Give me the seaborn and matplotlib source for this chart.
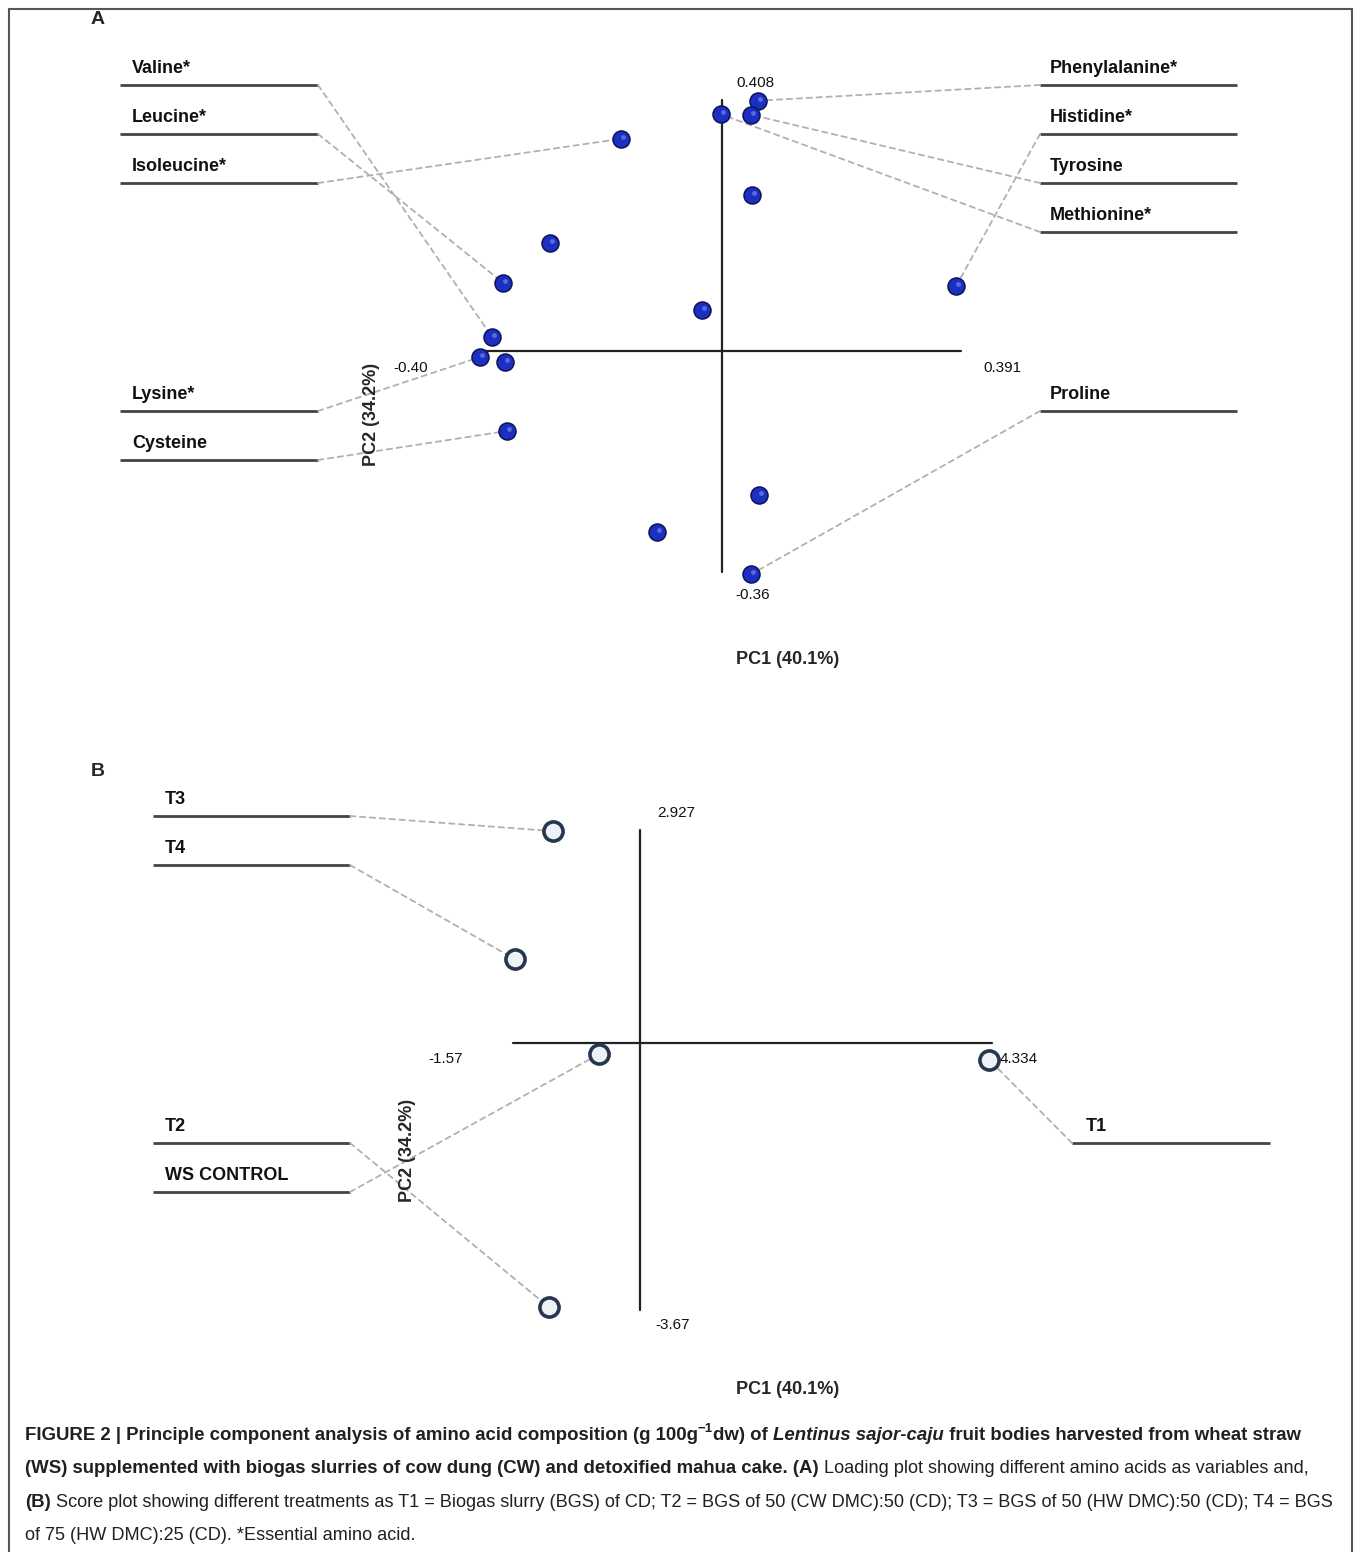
import numpy as np
import pandas as pd
import seaborn as sns
import matplotlib.pyplot as plt
import matplotlib.transforms as mtransforms

sns.set_style('white')
plt.rcParams['font.family'] = ['Liberation Sans', 'DejaVu Sans']

W, H = 1360, 1552

# ---- data: panel A loadings (PC1, PC2)
aa_names = ['Phenylalanine*', 'Methionine*', 'Tyrosine', 'Isoleucine*', '', '',
            'Leucine*', 'Histidine*', '', 'Valine*', 'Lysine*', '', 'Cysteine',
            '', '', 'Proline']
aa_pc1 = [0.059, -0.002, 0.048, -0.166, 0.049, -0.282, -0.359, 0.384,
          -0.033, -0.377, -0.397, -0.356, -0.352, 0.061, -0.107, 0.048]
aa_pc2 = [0.407, 0.385, 0.384, 0.345, 0.254, 0.176, 0.111, 0.106,
          0.067, 0.023, -0.010, -0.018, -0.130, -0.234, -0.294, -0.363]
a_xlim = [-0.40, 0.391]
a_ylim = [-0.36, 0.408]

# ---- data: panel B scores
trt_names = ['T3', 'T4', 'WS CONTROL', 'T1', 'T2']
trt_pc1 = [-1.07, -1.54, -0.50, 4.30, -1.12]
trt_pc2 = [2.91, 1.15, -0.15, -0.23, -3.63]
b_xlim = [-1.57, 4.334]
b_ylim = [-3.67, 2.927]

fig = plt.figure(figsize=(W / 100, H / 100), dpi=100)
pix = mtransforms.Affine2D().scale(1 / W, -1 / H).translate(0, 1) + fig.transFigure


def make_axes(origin, sx, sy, top, bottom):
    # axes spanning full width; data scaled so origin sits on the given pixel
    ox, oy = origin
    ax = fig.add_axes([0, 1 - bottom / H, 1, (bottom - top) / H])
    ax.set_xlim((0 - ox) / sx, (W - ox) / sx)
    ax.set_ylim((oy - bottom) / sy, (oy - top) / sy)
    ax.axis('off')
    return ax


def label_line(ax, name, x0, x1, y, tx, point, join_left):
    ax.plot([x0, x1], [y, y], color='#444444', lw=2, transform=pix, solid_capstyle='butt')
    ax.text(tx, y - 8, name, transform=pix, fontsize=13, fontweight='bold',
            ha='left', va='bottom', color='#111111')
    jx = x1 if join_left else x0
    ax.annotate('', xy=point, xycoords='data', xytext=(jx, y), textcoords=pix,
                arrowprops=dict(arrowstyle='-', ls=(0, (3, 2.5)), color='#b0b0b0',
                                lw=1.3, shrinkA=0, shrinkB=0))


# ================= panel A
axA = make_axes((722, 351), 610, 615, 30, 720)
axA.plot([a_xlim[0], a_xlim[1]], [0, 0], color='#222222', lw=1.6)
axA.plot([0, 0], [a_ylim[0], a_ylim[1]], color='#222222', lw=1.6)

dfA = pd.DataFrame({'PC1': aa_pc1, 'PC2': aa_pc2, 'name': aa_names})

left_rows = {'Valine*': 85, 'Leucine*': 134, 'Isoleucine*': 183, 'Lysine*': 411, 'Cysteine': 460}
right_rows = {'Phenylalanine*': 85, 'Histidine*': 134, 'Tyrosine': 183, 'Methionine*': 232, 'Proline': 411}
for _, r in dfA.iterrows():
    if r['name'] in left_rows:
        label_line(axA, r['name'], 120, 318, left_rows[r['name']], 132, (r['PC1'], r['PC2']), True)
    elif r['name'] in right_rows:
        label_line(axA, r['name'], 1040, 1237, right_rows[r['name']], 1050, (r['PC1'], r['PC2']), False)

sns.scatterplot(data=dfA, x='PC1', y='PC2', ax=axA, s=150, color='#1c2fc0',
                edgecolor='#0b1355', linewidth=1.1, zorder=5, legend=False)
# small highlight on each sphere
axA.scatter(dfA['PC1'] + 0.003, dfA['PC2'] + 0.003, s=12, color='#6f86f0',
            linewidth=0, zorder=6, alpha=0.7)

axA.text(0.054, a_ylim[1] + 0.027, f'{a_ylim[1]:.3f}', fontsize=11, ha='center', va='center', color='#111')
axA.text(a_xlim[1] + 0.068, -0.027, f'{a_xlim[1]:.3f}', fontsize=11, ha='center', va='center', color='#111')
axA.text(a_xlim[0] - 0.11, -0.027, f'{a_xlim[0]:.2f}', fontsize=11, ha='center', va='center', color='#111')
axA.text(0.05, a_ylim[0] - 0.037, f'{a_ylim[0]:.2f}', fontsize=11, ha='center', va='center', color='#111')
axA.text(788, 659, 'PC1 (40.1%)', transform=pix, fontsize=13, fontweight='bold', ha='center', va='center')
axA.text(372, 414, 'PC2 (34.2%)', transform=pix, fontsize=13, fontweight='bold',
         ha='center', va='center', rotation=90)
axA.text(98, 20, 'A', transform=pix, fontsize=14, fontweight='bold', ha='center', va='center')

# ================= panel B
axB = make_axes((640, 1043), 81.2, 72.8, 760, 1400)
axB.plot([b_xlim[0], b_xlim[1]], [0, 0], color='#222222', lw=1.6)
axB.plot([0, 0], [b_ylim[0], b_ylim[1]], color='#222222', lw=1.6)

dfB = pd.DataFrame({'PC1': trt_pc1, 'PC2': trt_pc2, 'name': trt_names})
left_b = {'T3': 816, 'T4': 865, 'T2': 1143, 'WS CONTROL': 1192}
for _, r in dfB.iterrows():
    if r['name'] in left_b:
        label_line(axB, r['name'], 153, 350, left_b[r['name']], 165, (r['PC1'], r['PC2']), True)
    else:
        label_line(axB, r['name'], 1072, 1270, 1143, 1086, (r['PC1'], r['PC2']), False)

sns.scatterplot(data=dfB, x='PC1', y='PC2', ax=axB, s=190, color='#eef2f7',
                edgecolor='#26364f', linewidth=2.6, zorder=5, legend=False)

axB.text(0.45, b_ylim[1] + 0.23, f'{b_ylim[1]:.3f}', fontsize=11, ha='center', va='center', color='#111')
axB.text(b_xlim[1] + 0.33, -0.22, f'{b_xlim[1]:.3f}', fontsize=11, ha='center', va='center', color='#111')
axB.text(b_xlim[0] - 0.82, -0.22, f'{b_xlim[0]:.2f}', fontsize=11, ha='center', va='center', color='#111')
axB.text(0.40, b_ylim[0] - 0.20, f'{b_ylim[0]:.2f}', fontsize=11, ha='center', va='center', color='#111')
axB.text(788, 1390, 'PC1 (40.1%)', transform=pix, fontsize=13, fontweight='bold', ha='center', va='center')
axB.text(408, 1150, 'PC2 (34.2%)', transform=pix, fontsize=13, fontweight='bold',
         ha='center', va='center', rotation=90)
axB.text(98, 771, 'B', transform=pix, fontsize=14, fontweight='bold', ha='center', va='center')

# ================= frame
for xs, ys in [([9, 9], [9, H]), ([9, 1352], [9, 9]), ([1352, 1352], [9, H])]:
    fig.add_artist(plt.Line2D(xs, ys, transform=pix, color='#555555', lw=1.5))

# ================= caption
cap_lines = [
    [('FIGURE 2 | Principle component analysis of amino acid composition (g 100g', 'bold', 'normal', 0),
     ('\u22121', 'bold', 'normal', 1),
     ('dw) of ', 'bold', 'normal', 0),
     ('Lentinus sajor-caju', 'bold', 'italic', 0),
     (' fruit bodies harvested from wheat straw', 'bold', 'normal', 0)],
    [('(WS) supplemented with biogas slurries of cow dung (CW) and detoxified mahua cake. (A)', 'bold', 'normal', 0),
     (' Loading plot showing different amino acids as variables and,', 'normal', 'normal', 0)],
    [('(B)', 'bold', 'normal', 0),
     (' Score plot showing different treatments as T1 = Biogas slurry (BGS) of CD; T2 = BGS of 50 '
      '(CW DMC):50 (CD); T3 = BGS of 50 (HW DMC):50 (CD); T4 = BGS', 'normal', 'normal', 0)],
    [('of 75 (HW DMC):25 (CD). *Essential amino acid.', 'normal', 'normal', 0)],
]
cap_y = [1440, 1473, 1507, 1540]
renderer = fig.canvas.get_renderer()
for pieces, y in zip(cap_lines, cap_y):
    x = 25
    for s, wt, st, sup in pieces:
        size = 9.5 if sup else (13.4 if wt == 'bold' else 13.1)
        t = fig.text(x, y - (8 if sup else 0), s, transform=pix, fontsize=size,
                     fontweight=wt, fontstyle=st, color='#231f20', ha='left', va='baseline')
        x += t.get_window_extent(renderer).width

fig.savefig('out.png', dpi=100)
